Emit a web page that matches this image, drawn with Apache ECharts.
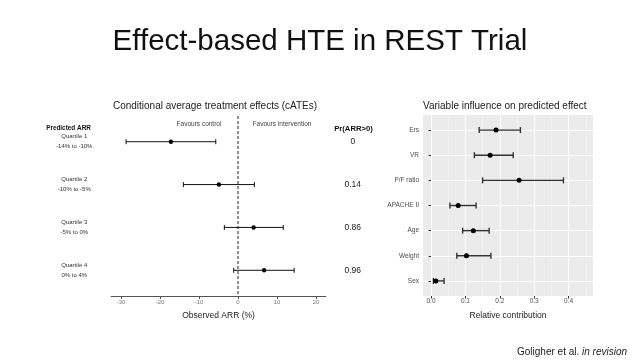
<!DOCTYPE html>
<html>
<head>
<meta charset="utf-8">
<script src="https://cdn.jsdelivr.net/npm/echarts@6/dist/echarts.min.js"></script>
<style>
html,body{margin:0;padding:0;background:#fff;}
#chart{width:640px;height:360px;}
</style>
</head>
<body>
<div id="chart"></div>
<script>
// ---- Left panel data: conditional average treatment effects ----
const quartileNames = ['Quartile 1', 'Quartile 2', 'Quartile 3', 'Quartile 4'];
const quartileRanges = ['-14% to -10%', '-10% to -5%', '-5% to 0%', '0% to 4%'];
const arrLower = [-28.7, -14.0, -3.5, -1.1];
const arrEstimate = [-17.2, -4.9, 4.0, 6.7];
const arrUpper = [-5.7, 4.2, 11.6, 14.4];
const prArrPositive = ['0', '0.14', '0.86', '0.96'];
const arrTicks = [-30, -20, -10, 0, 10, 20];

// ---- Right panel data: variable influence ----
const variables = ['Ers', 'VR', 'P/F ratio', 'APACHE II', 'Age', 'Weight', 'Sex'];
const contribLower = [0.140, 0.126, 0.150, 0.055, 0.092, 0.075, 0.007];
const contribEstimate = [0.189, 0.172, 0.256, 0.079, 0.123, 0.103, 0.014];
const contribUpper = [0.260, 0.239, 0.385, 0.131, 0.169, 0.174, 0.038];
const contribTicks = [0.0, 0.1, 0.2, 0.3, 0.4];
const contribMinor = [-0.05, 0.05, 0.15, 0.25, 0.35, 0.45];

const FONT = '"Liberation Sans", Arial, sans-serif';

const leftData = quartileNames.map((n, i) => [i + 1, arrLower[i], arrEstimate[i], arrUpper[i]]);
const rightData = variables.map((n, i) => [i + 1, contribLower[i], contribEstimate[i], contribUpper[i]]);

function errRender(capH, color, lw, r) {
  return function (params, api) {
    const y = api.value(0);
    const lo = api.coord([api.value(1), y]);
    const est = api.coord([api.value(2), y]);
    const hi = api.coord([api.value(3), y]);
    const st = { stroke: color, lineWidth: lw };
    return {
      type: 'group',
      children: [
        { type: 'line', shape: { x1: lo[0], y1: lo[1], x2: hi[0], y2: hi[1] }, style: st },
        { type: 'line', shape: { x1: lo[0], y1: lo[1] - capH / 2, x2: lo[0], y2: lo[1] + capH / 2 }, style: st },
        { type: 'line', shape: { x1: hi[0], y1: hi[1] - capH / 2, x2: hi[0], y2: hi[1] + capH / 2 }, style: st },
        { type: 'circle', shape: { cx: est[0], cy: est[1], r: r }, style: { fill: '#000' } }
      ]
    };
  };
}

const chart = echarts.init(document.getElementById('chart'), null, { renderer: 'canvas' });

const option = {
  backgroundColor: '#ffffff',
  animation: false,
  textStyle: { fontFamily: FONT },
  grid: [
    { left: 111.25, right: 314.25, top: 116, bottom: 64, containLabel: false },
    { left: 423, right: 47, top: 115, bottom: 64, containLabel: false, show: true, backgroundColor: '#ebebeb', borderWidth: 0 }
  ],
  xAxis: [
    {
      type: 'value', gridIndex: 0, min: -32.5, max: 22.5,
      axisLine: { show: true, lineStyle: { color: '#555', width: 1.2 } },
      axisTick: { show: true, customValues: arrTicks, length: 3, lineStyle: { color: '#555' } },
      axisLabel: { customValues: arrTicks, fontSize: 6, color: '#777', margin: 3, fontFamily: FONT },
      splitLine: { show: false },
      name: 'Observed ARR (%)', nameLocation: 'middle', nameGap: 15,
      nameTextStyle: { fontSize: 8.5, color: '#222', fontFamily: FONT }
    },
    {
      type: 'value', gridIndex: 1, min: -0.02326, max: 0.4709,
      axisLine: { show: false },
      axisTick: { show: true, customValues: contribTicks, length: 2.5, lineStyle: { color: '#333' } },
      axisLabel: { customValues: contribTicks, fontSize: 6.5, color: '#4d4d4d', margin: 2, fontFamily: FONT,
        formatter: v => v.toFixed(1) },
      splitLine: { show: true, lineStyle: { color: '#ffffff', width: 1.1 } },
      name: 'Relative contribution', nameLocation: 'middle', nameGap: 15,
      nameTextStyle: { fontSize: 8.5, color: '#222', fontFamily: FONT }
    },
    {
      type: 'value', gridIndex: 1, min: -0.02326, max: 0.4709, show: true,
      axisLine: { show: false },
      axisTick: { show: false, customValues: contribMinor },
      axisLabel: { show: false, customValues: contribMinor },
      splitLine: { show: true, lineStyle: { color: '#f7f7f7', width: 0.6 } }
    }
  ],
  yAxis: [
    {
      type: 'value', gridIndex: 0, min: 0.4, max: 4.6, inverse: true,
      axisLine: { show: false }, axisTick: { show: false }, splitLine: { show: false },
      axisLabel: {
        customValues: [1, 2, 3, 4], align: 'center', margin: 37, fontSize: 6, lineHeight: 10,
        color: '#333', fontFamily: FONT,
        formatter: v => quartileNames[v - 1] + '\n' + quartileRanges[v - 1]
      }
    },
    {
      type: 'value', gridIndex: 0, min: 0.4, max: 4.6, inverse: true, position: 'right',
      axisLine: { show: false }, axisTick: { show: false }, splitLine: { show: false },
      axisLabel: {
        customValues: [1, 2, 3, 4], align: 'center', margin: 27, fontSize: 8.5,
        color: '#222', fontFamily: FONT,
        formatter: v => prArrPositive[v - 1]
      }
    },
    {
      type: 'value', gridIndex: 1, min: 0.4, max: 7.6, inverse: true,
      axisLine: { show: false },
      axisTick: { show: true, customValues: [1, 2, 3, 4, 5, 6, 7], length: 2.5, lineStyle: { color: '#333' } },
      axisLabel: {
        customValues: [1, 2, 3, 4, 5, 6, 7], fontSize: 6.5, color: '#4d4d4d', margin: 4, fontFamily: FONT,
        formatter: v => variables[v - 1]
      },
      splitLine: { show: true, lineStyle: { color: '#ffffff', width: 1.1 } }
    }
  ],
  series: [
    {
      type: 'line', xAxisIndex: 0, yAxisIndex: 0, data: [[0, 0.4], [0, 4.6]],
      symbol: 'none', silent: true,
      lineStyle: { color: '#555', width: 1.3, type: [3, 2] }, z: 1
    },
    {
      type: 'custom', xAxisIndex: 0, yAxisIndex: 0, data: leftData,
      encode: { x: [1, 2, 3], y: 0 },
      renderItem: errRender(5, '#111', 1, 2.2), z: 3
    },
    {
      type: 'custom', xAxisIndex: 1, yAxisIndex: 2, data: rightData,
      encode: { x: [1, 2, 3], y: 0 },
      renderItem: errRender(6, '#333', 1.4, 2.5), z: 3
    }
  ],
  graphic: [
    { type: 'text', left: 'center', top: 27, style: { text: 'Effect-based HTE in REST Trial', font: '29.5px ' + FONT, fill: '#111' } },
    { type: 'text', x: 215, y: 106.7, style: { text: 'Conditional average treatment effects (cATEs)', font: '10px ' + FONT, fill: '#222', align: 'center', verticalAlign: 'middle' } },
    { type: 'text', x: 423, y: 106.7, style: { text: 'Variable influence on predicted effect', font: '10px ' + FONT, fill: '#222', align: 'left', verticalAlign: 'middle' } },
    { type: 'text', x: 68.5, y: 128.7, style: { text: 'Predicted ARR', font: 'bold 6.4px ' + FONT, fill: '#111', align: 'center', verticalAlign: 'middle' } },
    { type: 'text', x: 199, y: 124.3, style: { text: 'Favours control', font: '6.5px ' + FONT, fill: '#444', align: 'center', verticalAlign: 'middle' } },
    { type: 'text', x: 282, y: 124.3, style: { text: 'Favours intervention', font: '6.5px ' + FONT, fill: '#444', align: 'center', verticalAlign: 'middle' } },
    { type: 'text', x: 353.5, y: 129.3, style: { text: 'Pr(ARR>0)', font: 'bold 7.7px ' + FONT, fill: '#111', align: 'center', verticalAlign: 'middle' } },
    { type: 'text', x: 517, y: 352.3, style: {
        text: '{a|Goligher et al. }{b|in revision}', verticalAlign: 'middle', align: 'left',
        rich: { a: { font: '10px ' + FONT, fill: '#222' }, b: { font: 'italic 10px ' + FONT, fill: '#222' } } } }
  ]
};

chart.setOption(option);
</script>
</body>
</html>
